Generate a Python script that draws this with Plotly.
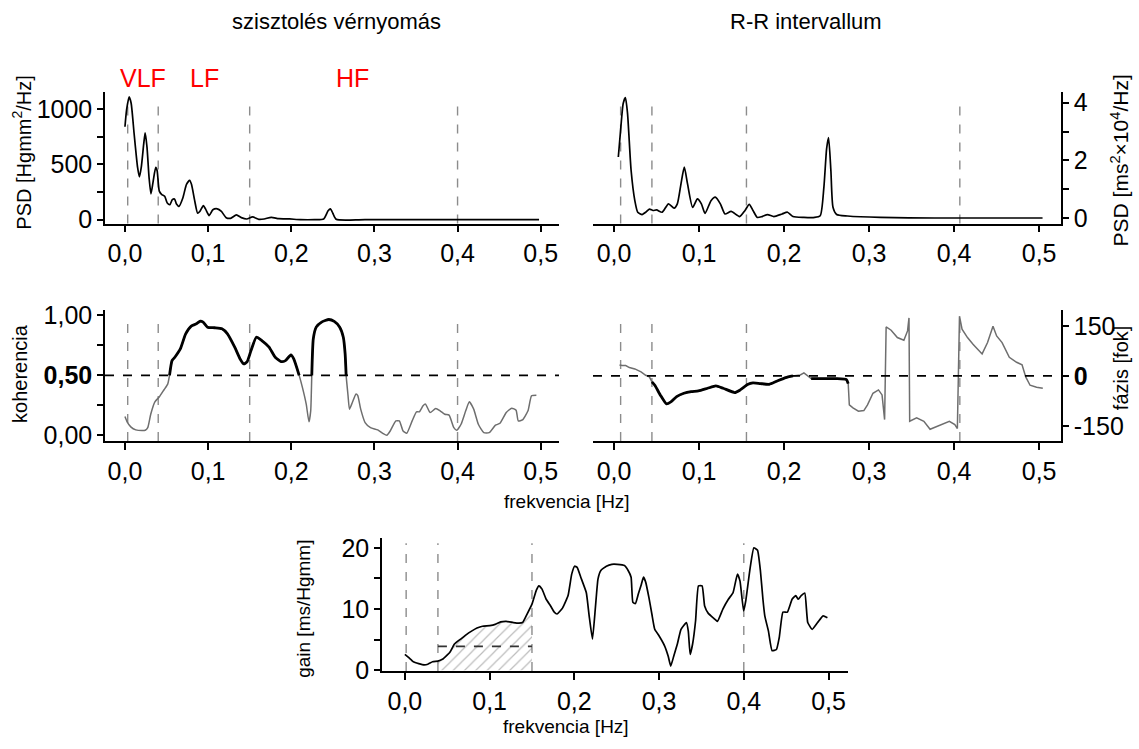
import plotly.graph_objects as go

W, H = 1139, 749

# ---------------- data ----------------
sbp_f = [0.000,0.002,0.005,0.0074,0.011,0.0152,0.0174,0.0196,0.0226,0.0243,0.0265,0.029,0.0313,0.034,0.037,0.0387,0.0413,0.0443,0.0478,0.0509,0.054,0.057,0.0596,0.062,0.065,0.0696,0.074,0.0778,0.080,0.084,0.0874,0.090,0.0943,0.097,0.1013,0.1057,0.111,0.116,0.1217,0.127,0.134,0.140,0.1465,0.1535,0.161,0.1674,0.176,0.185,0.198,0.211,0.228,0.239,0.2443,0.247,0.25,0.254,0.289,0.498]
sbp_psd = [840,994,1110,1055,779,472,386,472,687,785,656,380,233,350,472,442,258,227,212,150,135,181,187,141,120,196,319,356,319,166,58,74,126,95,37,89,98,74,18,12,43,18,6,25,3,6,21,9,6,0,0,6,80,98,58,3,0,0]

rr_f = [0.005,0.008,0.0107,0.0133,0.0158,0.020,0.0244,0.0278,0.033,0.0372,0.0415,0.0458,0.05,0.0565,0.064,0.0706,0.0744,0.0787,0.0826,0.0864,0.0924,0.098,0.1027,0.107,0.114,0.119,0.125,0.1305,0.1377,0.1476,0.154,0.159,0.1634,0.1685,0.174,0.1805,0.188,0.1976,0.204,0.2104,0.2233,0.236,0.2425,0.2468,0.250,0.2523,0.255,0.2575,0.2618,0.2746,0.313,0.377,0.504]
rr_psd = [2.12,3.16,3.97,4.17,3.63,1.66,0.61,0.21,0.13,0.21,0.32,0.27,0.29,0.21,0.50,0.35,0.50,1.19,1.77,1.19,0.38,0.67,0.50,0.17,0.61,0.73,0.50,0.15,0.24,0.06,0.27,0.48,0.27,0.03,0.06,0.13,0.06,0.15,0.21,0.06,0.03,0.03,0.09,1.08,2.41,2.79,1.66,0.38,0.13,0.08,0.03,0.01,0.01]

coh_f = [0.0,0.0026,0.007,0.013,0.021,0.0244,0.0274,0.031,0.036,0.0414,
         0.047,0.0514,0.0536,0.0566,0.060,0.0666,0.073,0.0797,0.086,0.0906,
         0.094,0.0993,0.108,0.1167,0.1233,0.132,0.1385,0.143,0.147,0.1516,
         0.158,0.1646,0.1733,0.1807,0.1877,0.193,0.1995,0.203,0.2095,0.2134,
         0.218,0.2213,0.2234,0.2247,0.2265,0.23,0.2365,0.2452,0.2517,0.2583,
         0.2626,0.2648,0.266,0.2683,0.27,0.2735,0.2779,0.28,0.2835,0.2888,
         0.2953,0.304,0.3105,0.3149,0.319,0.3258,0.33,0.3345,0.3389,0.3454,
         0.3506,0.354,0.3585,0.3615,0.367,0.3737,0.379,0.3846,0.3898,0.3955,
         0.399,0.4042,0.4098,0.4142,0.4194,0.425,0.4316,0.438,0.4456,0.451,
         0.4586,0.4651,0.4704,0.473,0.478,0.4847,0.489,0.4948]
coh = [0.156,0.112,0.07,0.045,0.039,0.042,0.064,0.176,0.279,0.321,
       0.38,0.427,0.5,0.623,0.651,0.72,0.846,0.911,0.93,0.953,
       0.944,0.902,0.897,0.888,0.846,0.735,0.637,0.595,0.615,0.707,
       0.818,0.79,0.735,0.651,0.615,0.623,0.670,0.637,0.5,0.40,
       0.26,0.112,0.204,0.5,0.804,0.902,0.944,0.966,0.95,0.902,
       0.818,0.679,0.5,0.33,0.218,0.274,0.344,0.33,0.218,0.106,
       0.064,0.045,0.014,0.0,0.036,0.12,0.12,0.036,0.017,0.12,
       0.196,0.196,0.246,0.26,0.19,0.223,0.204,0.176,0.168,0.064,
       0.042,0.092,0.204,0.279,0.218,0.092,0.022,0.022,0.084,0.1,
       0.19,0.226,0.209,0.12,0.128,0.204,0.33,0.335]

ph_f = [0.0064,0.0094,0.0137,0.018,0.0244,0.0317,0.0372,0.0415,0.0445,0.0479,
        0.0543,0.0616,0.0672,0.0736,0.0821,0.0907,0.0992,0.11,0.1198,0.1283,
        0.142,0.1484,0.157,0.1634,0.172,0.1826,0.1912,0.2019,0.2104,0.219,
        0.2233,0.2267,0.2318,0.2447,0.2618,0.2733,0.2754,0.2767,0.281,0.2874,
        0.2938,0.2981,0.3045,0.311,0.3152,0.3182,0.32,0.3259,0.3332,0.3409,
        0.3452,0.3469,0.3477,0.3559,0.3644,0.3717,0.3815,0.3944,0.4008,0.4038,
        0.4063,0.4093,0.4157,0.4222,0.4329,0.4393,0.4457,0.45,0.4564,0.4649,
        0.4735,0.4799,0.4842,0.4893,0.497,0.5043]
phase = [33,31,31,25,21,12,2,-3,-18,-28,
         -57,-84,-77,-62,-52,-47,-45,-37,-30,-37,
         -50,-42,-26,-21,-23,-25,-16,-5,0,3,
         9,3,-8,-8,-8,-11,-23,-87,-96,-106,
         -104,-87,-52,-42,-57,-131,147,137,115,107,
         135,174,-136,-126,-136,-160,-149,-136,-146,-158,
         179,140,115,95,66,100,149,120,100,56,
         41,33,-3,-28,-34,-37]
phase_coherent_bands = [(0.0445, 0.2104), (0.2318, 0.2754)]

gain_f = [0.0,0.0043,0.0099,0.0163,0.0228,0.0271,0.0327,0.039,0.0443,0.0499,
          0.0529,0.0585,0.0658,0.0722,0.0787,0.0851,0.0916,0.1002,0.1066,0.1131,
          0.1195,0.1281,0.1346,0.1389,0.1432,0.15,0.1552,0.1582,0.1617,0.1668,
          0.172,0.1763,0.1797,0.1862,0.1926,0.1969,0.2003,0.2033,0.2076,0.2141,
          0.2175,0.2214,0.2249,0.2279,0.2313,0.2378,0.2442,0.2506,0.2592,0.2635,
          0.267,0.2691,0.2721,0.2756,0.2786,0.2816,0.2842,0.288,0.2915,0.2949,
          0.3001,0.3065,0.3108,0.3138,0.3173,0.3216,0.3259,0.3323,0.3345,0.3367,
          0.3396,0.3431,0.3465,0.3508,0.3538,0.3581,0.3646,0.3689,0.3753,0.3818,
          0.3874,0.3925,0.3955,0.3998,0.4024,0.4076,0.4119,0.4162,0.4196,0.4226,
          0.4248,0.4291,0.4334,0.4385,0.4419,0.4462,0.4514,0.457,0.4613,0.4643,
          0.4678,0.472,0.4755,0.4807,0.4871,0.4936,0.4987]
gain = [2.6,2.1,1.4,1.1,0.9,1.0,1.4,1.5,1.8,2.5,
        2.9,4.3,5.1,5.8,6.4,6.9,7.2,7.3,7.5,7.9,
        8.0,7.8,7.7,7.8,8.9,10.8,13.1,13.8,13.3,11.6,
        10.5,9.5,9.2,10.2,12.2,15.7,17.0,16.8,15.2,12.7,
        8.9,5.1,10.3,14.9,16.3,17.0,17.3,17.3,17.1,16.3,
        15.2,11.1,10.9,12.5,13.8,15.2,14.4,11.9,9.2,6.7,
        5.6,4.0,2.3,0.7,2.3,4.3,6.7,7.8,6.4,2.6,
        4.3,8.1,13.8,13.8,10.5,9.3,8.5,8.0,10.0,11.6,
        12.7,15.7,14.6,9.7,11.4,16.8,20.0,19.6,16.3,11.6,
        8.9,6.4,3.2,3.4,5.4,9.5,9.5,11.6,12.2,11.6,
        12.2,12.6,7.8,6.7,7.8,8.9,8.6]
lf_mean_gain = 3.9

bands_sbp = [0.0033, 0.04, 0.15, 0.4]
bands_rr = [0.0077, 0.0445, 0.1557, 0.4067]
bands_gain = [0.0015, 0.039, 0.15, 0.4]

x_tickvals = [0.0, 0.1, 0.2, 0.3, 0.4, 0.5]
x_ticktext = ["0,0", "0,1", "0,2", "0,3", "0,4", "0,5"]

# ---------------- helpers ----------------
FONT = "Liberation Sans, Arial, sans-serif"
TICKF = dict(family=FONT, size=25, color="black")

def px_x(a, b):
    return [a / W, b / W]

def px_y(top, bottom):
    return [1 - bottom / H, 1 - top / H]

def xax(dom, rng, anchor):
    return dict(domain=dom, range=rng, anchor=anchor, showline=True, linecolor="black",
                linewidth=1.5, ticks="outside", ticklen=7, tickwidth=1.5, tickcolor="black",
                tickvals=x_tickvals, ticktext=x_ticktext, showgrid=False, zeroline=False,
                tickfont=TICKF, fixedrange=True)

def yax(dom, rng, anchor, tv, tt, minor_dtick, side="left"):
    return dict(domain=dom, range=rng, anchor=anchor, side=side, showline=True,
                linecolor="black", linewidth=1.5, ticks="outside", ticklen=6, tickwidth=1.5,
                tickcolor="black", tickvals=tv, ticktext=tt, showgrid=False, zeroline=False,
                minor=dict(ticks="outside", dtick=minor_dtick, tick0=0, ticklen=6,
                           tickwidth=1.5, tickcolor="black", showgrid=False),
                tickfont=TICKF, fixedrange=True)

fig = go.Figure()

# panel 1: SBP PSD
fig.add_trace(go.Scatter(x=sbp_f, y=sbp_psd, mode="lines", xaxis="x", yaxis="y",
                         line=dict(color="black", width=1.7, shape="spline", smoothing=0.6)))
# panel 2: RR PSD
fig.add_trace(go.Scatter(x=rr_f, y=rr_psd, mode="lines", xaxis="x2", yaxis="y2",
                         line=dict(color="black", width=1.7, shape="spline", smoothing=0.6)))
# panel 3: coherence
fig.add_trace(go.Scatter(x=coh_f, y=coh, mode="lines", xaxis="x3", yaxis="y3",
                         line=dict(color="#6e6e6e", width=1.5, shape="spline", smoothing=0.5)))
coh_hi = [c if c >= 0.5 else None for c in coh]
fig.add_trace(go.Scatter(x=coh_f, y=coh_hi, mode="lines", xaxis="x3", yaxis="y3",
                         connectgaps=False,
                         line=dict(color="black", width=2.8, shape="spline", smoothing=0.5)))
# panel 4: phase
fig.add_trace(go.Scatter(x=ph_f, y=phase, mode="lines", xaxis="x4", yaxis="y4",
                         line=dict(color="#6e6e6e", width=1.5)))
ph_hi = [p if any(a <= f <= b for a, b in phase_coherent_bands) else None
         for f, p in zip(ph_f, phase)]
fig.add_trace(go.Scatter(x=ph_f, y=ph_hi, mode="lines", xaxis="x4", yaxis="y4",
                         connectgaps=False,
                         line=dict(color="black", width=2.8, shape="spline", smoothing=0.5)))
# panel 5: gain, hatched LF region
lf_lo, lf_hi = bands_gain[1], bands_gain[2]
hx = [f for f in gain_f if lf_lo <= f <= lf_hi]
hy = [g for f, g in zip(gain_f, gain) if lf_lo <= f <= lf_hi]
fig.add_trace(go.Scatter(x=hx, y=hy, mode="lines", xaxis="x5", yaxis="y5", fill="tozeroy",
                         fillcolor="rgba(0,0,0,0)",
                         fillpattern=dict(shape="/", fgcolor="#7a7a7a", bgcolor="rgba(255,255,255,0)",
                                          size=8, solidity=0.15),
                         line=dict(width=0, shape="spline", smoothing=0.4)))
fig.add_trace(go.Scatter(x=gain_f, y=gain, mode="lines", xaxis="x5", yaxis="y5",
                         line=dict(color="black", width=1.7, shape="spline", smoothing=0.4)))
fig.add_trace(go.Scatter(x=[lf_lo, lf_hi], y=[lf_mean_gain, lf_mean_gain], mode="lines",
                         xaxis="x5", yaxis="y5",
                         line=dict(color="#333333", width=1.7, dash="dash")))

# shapes: band boundaries
shapes = []
for xa, ya, bands in [("x", "y", bands_sbp), ("x2", "y2", bands_rr), ("x3", "y3", bands_sbp),
                      ("x4", "y4", bands_rr), ("x5", "y5", bands_gain)]:
    for b in bands:
        shapes.append(dict(type="line", xref=xa, yref=ya + " domain", x0=b, x1=b, y0=0.0, y1=0.96,
                           line=dict(color="#8c8c8c", width=1.4, dash="dash"), layer="below"))
shapes.append(dict(type="line", xref="x3 domain", yref="y3", x0=0.0, x1=1, y0=0.5, y1=0.5,
                   line=dict(color="black", width=1.7, dash="dash")))
shapes.append(dict(type="line", xref="x4 domain", yref="y4", x0=0.0, x1=1, y0=0, y1=0,
                   line=dict(color="black", width=1.7, dash="dash")))

# layout
top_y = px_y(86, 221)
mid_y = px_y(310, 445)
fig.update_layout(
    width=W, height=H, margin=dict(l=0, r=0, t=0, b=0),
    paper_bgcolor="white", plot_bgcolor="white", showlegend=False,
    font=dict(family=FONT, color="black"),
    xaxis=xax(px_x(105, 559), [-0.024, 0.522], "y"),
    yaxis=yax(top_y, [-35, 1150], "x", [0, 500, 1000], ["0", "500", "1000"], 250),
    xaxis2=xax(px_x(593, 1061), [-0.0248, 0.5257], "y2"),
    yaxis2=yax(top_y, [-0.18, 4.35], "x2", [0, 2, 4], ["0", "2", "4"], 1, side="right"),
    xaxis3=xax(px_x(105, 559), [-0.024, 0.522], "y3"),
    yaxis3=yax(mid_y, [-0.047, 1.046], "x3", [0, 0.5, 1.0],
               ["0,00", "<b>0,50</b>", "1,00"], 0.25),
    xaxis4=xax(px_x(593, 1061), [-0.0248, 0.5257], "y4"),
    yaxis4=yax(mid_y, [-195, 198], "x4", [-150, 0, 150], ["-150", "<b>0</b>", "150"], 150,
               side="right"),
    xaxis5=xax(px_x(382, 848), [-0.027, 0.523], "y5"),
    yaxis5=yax(px_y(545, 682), [-0.1, 21.6], "x5", [0, 10, 20], ["0", "10", "20"], 5),
    shapes=shapes,
)

def ann(text, x, y, size, color="black", angle=0):
    fig.add_annotation(text=text, x=x / W, y=1 - y / H, xref="paper", yref="paper",
                       showarrow=False, textangle=angle, xanchor="center", yanchor="middle",
                       font=dict(family=FONT, size=size, color=color))

ann("szisztolés vérnyomás", 336, 13, 22)
ann("R-R intervallum", 806, 13, 22)
ann("VLF", 143, 71, 25, "red")
ann("LF", 204, 71, 25, "red")
ann("HF", 352, 71, 25, "red")
ann("PSD [Hgmm<sup>2</sup>/Hz]", 22, 148, 20, angle=-90)
ann("PSD [ms<sup>2</sup>×10<sup>4</sup>/Hz]", 1120, 156, 21, angle=-90)
ann("koherencia", 20, 376, 20, angle=-90)
ann("fázis [fok]", 1121, 370, 20, angle=-90)
ann("frekvencia [Hz]", 567, 507, 19)
ann("gain [ms/Hgmm]", 304, 618, 19, angle=-90)
ann("frekvencia [Hz]", 566, 739, 19)

fig.write_html("out.html", config={"displayModeBar": False},
               post_script="document.body.style.margin='0px';")
